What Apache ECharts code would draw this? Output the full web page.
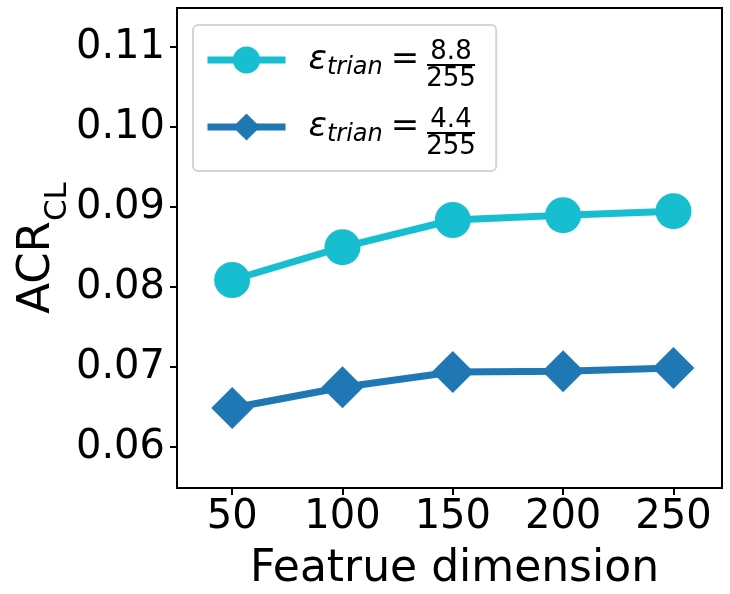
<!DOCTYPE html>
<html>
<head>
<meta charset="utf-8">
<script src="https://cdn.jsdelivr.net/npm/echarts@6/dist/echarts.min.js"></script>
<style>
html,body{margin:0;padding:0;background:#fff}
#chart{width:730px;height:594px}
</style>
</head>
<body>
<div id="chart"></div>
<script>
// data
const dims = [50, 100, 150, 200, 250];
const acrEps88 = [0.0809, 0.0850, 0.0884, 0.0890, 0.0895];
const acrEps44 = [0.0649, 0.0675, 0.0694, 0.0695, 0.0699];
const xTicks = [50, 100, 150, 200, 250];
const yTicks = [0.06, 0.07, 0.08, 0.09, 0.10, 0.11];
const seriesNames = ['eps88', 'eps44'];
const fracNum = ['8.8', '4.4'];
const fracDen = ['255', '255'];

const FONT = 'DejaVu Sans';
const chart = echarts.init(document.getElementById('chart'));

// fraction parts of the legend labels (matplotlib draws them stacked)
const legendRow0 = 62, legendRowStep = 68, fracX = 451;
const fracGraphics = [];
fracNum.forEach((num, i) => {
  const cy = legendRow0 + legendRowStep * i + 3;
  fracGraphics.push({
    type: 'text', z: 100,
    style: {text: num, x: fracX, y: cy - 13, fill: '#000', fontFamily: FONT, fontSize: 26,
            textAlign: 'center', textVerticalAlign: 'middle'}
  });
  fracGraphics.push({
    type: 'rect', z: 100,
    shape: {x: 427, y: cy - 1, width: 48, height: 2},
    style: {fill: '#000'}
  });
  fracGraphics.push({
    type: 'text', z: 100,
    style: {text: fracDen[i], x: fracX, y: cy + 14, fill: '#000', fontFamily: FONT, fontSize: 26,
            textAlign: 'center', textVerticalAlign: 'middle'}
  });
});

const option = {
  animation: false,
  backgroundColor: '#fff',
  grid: {
    left: 177, right: 8, top: 8, bottom: 106,
    outerBoundsMode: 'none',
    containLabel: false,
    show: true, borderColor: '#000', borderWidth: 2
  },
  legend: {
    orient: 'vertical',
    left: 193, top: 25,
    padding: [18, 77, 24, 11],
    itemWidth: 78, itemHeight: 34, itemGap: 30,
    borderColor: '#d4d4d4', borderWidth: 2, borderRadius: 5,
    backgroundColor: '#fff',
    lineStyle: {width: 7},
    data: seriesNames,
    formatter: () => '{eps|ε}{sub|trian}{eq|=}',
    textStyle: {
      color: '#000',
      rich: {
        eps: {fontFamily: FONT, fontStyle: 'italic', fontSize: 34, padding: [0, 0, 0, 18]},
        sub: {fontFamily: FONT, fontStyle: 'italic', fontSize: 24, lineHeight: 40, verticalAlign: 'bottom'},
        eq: {fontFamily: FONT, fontSize: 34, padding: [0, 0, 0, 8]}
      }
    }
  },
  graphic: fracGraphics,
  xAxis: {
    type: 'value',
    min: 25, max: 272,
    name: 'Featrue dimension',
    nameLocation: 'middle',
    nameGap: 60,
    nameMoveOverlap: false,
    nameTextStyle: {color: '#000', fontFamily: FONT, fontSize: 44, padding: [0, 0, 0, 10]},
    axisLine: {show: true, lineStyle: {color: '#000', width: 2}},
    axisTick: {show: true, length: 7, lineStyle: {color: '#000', width: 2}, customValues: xTicks},
    axisLabel: {color: '#000', fontFamily: FONT, fontSize: 40, margin: 10, customValues: xTicks},
    splitLine: {show: false}
  },
  yAxis: {
    type: 'value',
    min: 0.0549, max: 0.1149,
    name: '{a|ACR}{b|CL}',
    nameLocation: 'middle',
    nameRotate: 90,
    nameGap: 104,
    nameMoveOverlap: false,
    nameTextStyle: {
      color: '#000',
      rich: {
        a: {fontFamily: FONT, fontSize: 45, lineHeight: 48, verticalAlign: 'top'},
        b: {fontFamily: FONT, fontSize: 31, lineHeight: 58, verticalAlign: 'bottom'}
      }
    },
    axisLine: {show: true, lineStyle: {color: '#000', width: 2}},
    axisTick: {show: true, length: 7, lineStyle: {color: '#000', width: 2}, customValues: yTicks},
    axisLabel: {color: '#000', fontFamily: FONT, fontSize: 40, margin: 12, customValues: yTicks,
                formatter: v => v.toFixed(2)},
    splitLine: {show: false}
  },
  series: [
    {
      name: seriesNames[0], type: 'line',
      data: dims.map((d, i) => [d, acrEps88[i]]),
      symbol: 'circle', symbolSize: 36,
      color: '#17becf',
      lineStyle: {width: 7, color: '#17becf'},
      itemStyle: {color: '#17becf'}
    },
    {
      name: seriesNames[1], type: 'line',
      data: dims.map((d, i) => [d, acrEps44[i]]),
      symbol: 'diamond', symbolSize: 42,
      color: '#1f77b4',
      lineStyle: {width: 7, color: '#1f77b4'},
      itemStyle: {color: '#1f77b4'}
    }
  ]
};
chart.setOption(option);
</script>
</body>
</html>
